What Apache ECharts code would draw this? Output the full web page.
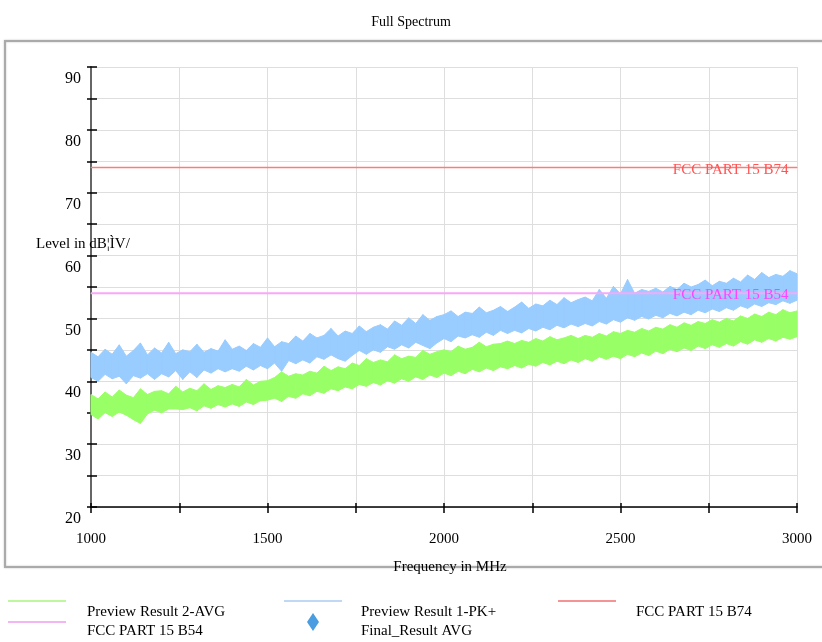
<!DOCTYPE html>
<html>
<head>
<meta charset="utf-8">
<script src="https://cdn.jsdelivr.net/npm/echarts@6/dist/echarts.min.js"></script>
<style>
  html, body { margin: 0; padding: 0; background: #fff; }
  #Spectrum { width: 822px; height: 642px; }
</style>
</head>
<body>
<div id="Spectrum"></div>
<script>
// 频率轴：1000~3000 MHz，每 20 MHz 一个采样点
var freqStart = 1000, freqStep = 20, freqCount = 101;
var freq = [];
for (var i = 0; i < freqCount; i++) freq.push(freqStart + i * freqStep);

// Preview Result 1-PK+ 噪声带 上沿 / 下沿 (dB)
var pkHigh = [44.6,43.9,45.1,44.3,45.8,44.0,44.9,46.1,44.2,45.3,
	44.5,46.2,44.4,45.0,44.7,45.9,44.6,45.2,44.8,46.6,
	45.1,45.6,44.9,46.0,45.4,46.9,45.5,46.3,46.0,47.2,
	46.4,47.6,46.9,47.3,48.4,47.2,48.0,47.6,48.8,47.9,
	48.6,49.0,48.3,49.6,48.9,50.1,49.2,50.6,49.7,50.3,
	50.6,51.2,50.3,51.0,50.8,51.8,50.9,51.3,51.9,51.1,
	51.8,52.6,51.6,52.3,52.0,52.9,52.2,53.3,52.5,53.0,
	53.4,52.8,54.6,53.2,55.1,53.9,56.2,54.0,54.6,54.3,
	54.8,54.2,55.1,54.6,55.6,55.0,55.4,56.1,55.2,55.9,
	55.6,56.4,55.8,56.9,56.2,57.3,56.5,57.0,56.7,57.6,57.1];
var pkLow = [40.6,40.0,41.1,40.4,40.8,39.6,40.9,40.5,41.2,40.3,
	41.2,40.7,41.7,40.3,41.5,40.6,41.8,41.3,42.0,41.5,
	42.0,41.6,42.4,41.8,42.5,42.0,42.9,41.6,43.3,42.8,
	43.4,42.9,43.9,43.5,44.2,43.6,43.2,44.1,44.9,44.3,
	45.0,44.6,45.5,45.1,45.8,45.3,46.2,45.7,45.2,46.1,
	46.8,46.3,47.2,46.9,47.4,47.0,47.8,47.3,48.1,47.6,
	48.1,47.7,48.4,48.0,48.6,48.2,48.9,48.5,49.1,48.7,
	49.2,48.8,49.5,49.1,49.8,49.4,50.1,49.7,50.3,49.9,
	50.5,50.1,50.8,50.4,51.0,50.6,51.3,50.9,51.5,51.1,
	51.7,51.3,52.0,51.6,52.3,51.9,52.5,52.2,52.8,52.4,52.9];

// Preview Result 2-AVG 噪声带 上沿 / 下沿 (dB)
var avgHigh = [37.9,37.2,38.3,37.5,38.6,37.8,37.4,38.8,37.9,38.4,
	38.5,38.0,39.2,38.3,38.9,38.5,39.6,38.7,39.3,39.0,
	39.5,39.1,40.3,39.4,40.0,40.1,40.6,41.5,40.8,41.2,
	41.0,41.6,41.3,42.4,41.7,42.3,42.0,42.9,42.5,43.6,
	43.0,43.4,43.1,44.2,43.6,44.0,43.8,44.9,44.3,44.7,
	45.0,44.7,45.6,45.1,45.4,46.2,45.5,45.9,46.0,46.4,
	46.0,46.5,46.2,46.8,46.4,47.1,46.6,46.9,47.3,46.8,
	47.3,47.0,47.6,47.2,47.9,47.6,48.1,47.8,48.4,48.0,
	48.6,48.3,49.0,48.6,49.3,48.9,49.5,49.2,49.8,49.4,
	50.0,49.6,50.4,50.0,50.7,50.3,51.0,50.6,51.4,50.9,51.2];
var avgLow = [34.7,34.0,35.0,34.4,35.1,34.6,33.9,33.3,34.8,35.4,
	35.0,35.6,35.6,35.5,35.8,35.3,36.1,35.7,36.3,35.9,
	36.4,36.0,36.7,36.3,36.9,37.0,37.3,36.8,37.6,37.3,
	38.0,37.7,38.4,38.1,38.8,38.5,39.1,38.8,39.5,39.2,
	39.8,39.4,40.1,39.7,40.4,40.0,40.7,40.3,41.0,40.6,
	41.3,40.9,41.6,41.2,41.9,41.5,42.1,41.7,42.3,42.0,
	42.5,42.1,42.7,42.4,43.0,42.6,43.2,42.8,43.4,43.0,
	43.6,43.2,43.9,43.5,44.0,43.6,44.3,43.9,44.5,44.1,
	44.8,44.4,45.1,44.7,45.3,44.9,45.6,45.2,45.8,45.4,
	46.0,45.6,46.3,45.9,46.6,46.2,46.8,46.4,47.0,46.7,47.1];

// 限值线
var limitFreq = [1000, 3000];
var limitB74 = [74, 74];
var limitB54 = [54, 54];

// 刻度标签
var xLabels = [1000, 1500, 2000, 2500, 3000];
var yLabels = [20, 30, 40, 50, 60, 70, 80, 90];

var serif = 'Liberation Serif';
var pkColor = '#99ccff', avgColor = '#99ff66';

// 每个数据项是相邻两个采样点之间的一段带状区域
function bandData(lo, hi) {
	var d = [];
	for (var i = 0; i < freq.length - 1; i++) {
		d.push([freq[i], lo[i], hi[i], freq[i + 1], lo[i + 1], hi[i + 1]]);
	}
	return d;
}
function renderBand(color) {
	return function (params, api) {
		var p1 = api.coord([api.value(0), api.value(2)]);
		var p2 = api.coord([api.value(3), api.value(5)]);
		var p3 = api.coord([api.value(3), api.value(4)]);
		var p4 = api.coord([api.value(0), api.value(1)]);
		return {
			type: 'polygon',
			shape: { points: [p1, p2, p3, p4] },
			style: { fill: color, stroke: color, lineWidth: 1 }
		};
	};
}
function limitData(ys, text, color) {
	return limitFreq.map(function (f, i) {
		var d = { value: [f, ys[i]] };
		if (i === limitFreq.length - 1) {
			d.label = {
				show: true, position: 'left', distance: 8, offset: [0, 2],
				formatter: text, color: color, fontFamily: serif, fontSize: 15
			};
		}
		return d;
	});
}

var myChart = echarts.init(document.getElementById('Spectrum'));

option = {
	animation: false,
	title: {
		text: 'Full Spectrum',
		left: 'center',
		top: 10,
		textStyle: { fontFamily: serif, fontSize: 14, fontWeight: 'normal', color: '#000' }
	},
	grid: { left: 91, top: 67, right: 25, bottom: 135 },
	xAxis: [
		{
			type: 'value', min: 1000, max: 3000, interval: 250,
			name: 'Frequency in MHz', nameLocation: 'middle', nameGap: 53,
			nameTextStyle: { fontFamily: serif, fontSize: 15, color: '#000', padding: [0, 0, 0, 12] },
			axisLine: { lineStyle: { color: '#000', width: 1.5 } },
			axisTick: { length: 6, lineStyle: { color: '#000', width: 1.5 } },
			axisLabel: {
				margin: 25, fontFamily: serif, fontSize: 15, color: '#000',
				formatter: function (v) { return xLabels.indexOf(v) >= 0 ? v : ''; }
			},
			splitLine: { lineStyle: { color: '#dedede' } }
		},
		{
			// 轴线上方的短刻度
			type: 'value', min: 1000, max: 3000, interval: 250, position: 'bottom',
			axisLine: { show: false },
			axisTick: { inside: true, length: 4, lineStyle: { color: '#000', width: 1.5 } },
			axisLabel: { show: false },
			splitLine: { show: false }
		}
	],
	yAxis: [
		{
			type: 'value', min: 20, max: 90, interval: 5,
			axisLine: { show: true, lineStyle: { color: '#666', width: 2 } },
			axisTick: { show: true, length: 4, lineStyle: { color: '#000', width: 1.5 } },
			axisLabel: {
				margin: 10, fontFamily: serif, fontSize: 16, color: '#000',
				verticalAlign: 'top', padding: [4, 0, 0, 0],
				formatter: function (v) { return yLabels.indexOf(v) >= 0 ? v : ''; }
			},
			splitLine: { lineStyle: { color: '#dedede' } }
		},
		{
			// 轴线右侧的短刻度
			type: 'value', min: 20, max: 90, interval: 5, position: 'left',
			axisLine: { show: false },
			axisTick: { show: true, inside: true, length: 6, lineStyle: { color: '#000', width: 1.5 } },
			axisLabel: { show: false },
			splitLine: { show: false }
		}
	],
	graphic: [
		// 外框
		{ type: 'rect', z: -1, shape: { x: 5, y: 41, width: 830, height: 526 },
			style: { fill: 'none', stroke: '#aaa', lineWidth: 2, shadowBlur: 2, shadowColor: 'rgba(0,0,0,0.25)' } },
		// Y 轴标题
		{ type: 'text', left: 36, top: 237, z: 10,
			style: { text: 'Level in dB¦ÌV/', font: '15px "Liberation Serif"', fill: '#000' } },
		// 图例
		{ type: 'line', shape: { x1: 8, y1: 601, x2: 66, y2: 601 }, style: { stroke: '#a8f57e', lineWidth: 1.5 } },
		{ type: 'text', left: 87, top: 605, style: { text: 'Preview Result 2-AVG', font: '15px "Liberation Serif"', fill: '#000' } },
		{ type: 'line', shape: { x1: 8, y1: 622, x2: 66, y2: 622 }, style: { stroke: '#f09cf0', lineWidth: 1.5 } },
		{ type: 'text', left: 87, top: 624, style: { text: 'FCC PART 15 B54', font: '15px "Liberation Serif"', fill: '#000' } },
		{ type: 'line', shape: { x1: 284, y1: 601, x2: 342, y2: 601 }, style: { stroke: '#aacdf2', lineWidth: 1.5 } },
		{ type: 'polygon', shape: { points: [[313, 613], [319, 622], [313, 631], [307, 622]] }, style: { fill: '#4a9de0' } },
		{ type: 'text', left: 361, top: 605, style: { text: 'Preview Result 1-PK+', font: '15px "Liberation Serif"', fill: '#000' } },
		{ type: 'text', left: 361, top: 624, style: { text: 'Final_Result AVG', font: '15px "Liberation Serif"', fill: '#000' } },
		{ type: 'line', shape: { x1: 558, y1: 601, x2: 616, y2: 601 }, style: { stroke: '#f07070', lineWidth: 1.5 } },
		{ type: 'text', left: 636, top: 605, style: { text: 'FCC PART 15 B74', font: '15px "Liberation Serif"', fill: '#000' } }
	],
	series: [
		{
			name: 'Preview Result 1-PK+', type: 'custom', silent: true,
			renderItem: renderBand(pkColor),
			data: bandData(pkLow, pkHigh),
			encode: { x: [0, 3], y: [1, 2, 4, 5] }
		},
		{
			name: 'Preview Result 2-AVG', type: 'custom', silent: true,
			renderItem: renderBand(avgColor),
			data: bandData(avgLow, avgHigh),
			encode: { x: [0, 3], y: [1, 2, 4, 5] }
		},
		{
			name: 'FCC PART 15 B54', type: 'line', silent: true,
			symbol: 'circle', symbolSize: 1, itemStyle: { color: '#f7a8f7' },
			data: limitData(limitB54, 'FCC PART 15 B54', '#ff44ff'),
			lineStyle: { color: '#f7a8f7', width: 2 }
		},
		{
			name: 'FCC PART 15 B74', type: 'line', silent: true,
			symbol: 'circle', symbolSize: 1, itemStyle: { color: '#ff7b7b' },
			data: limitData(limitB74, 'FCC PART 15 B74', '#ff5555'),
			lineStyle: { color: '#ff7b7b', width: 1.5 }
		}
	]
};

myChart.setOption(option);

window.addEventListener('resize', function () {
	myChart.resize();
});
</script>
</body>
</html>
